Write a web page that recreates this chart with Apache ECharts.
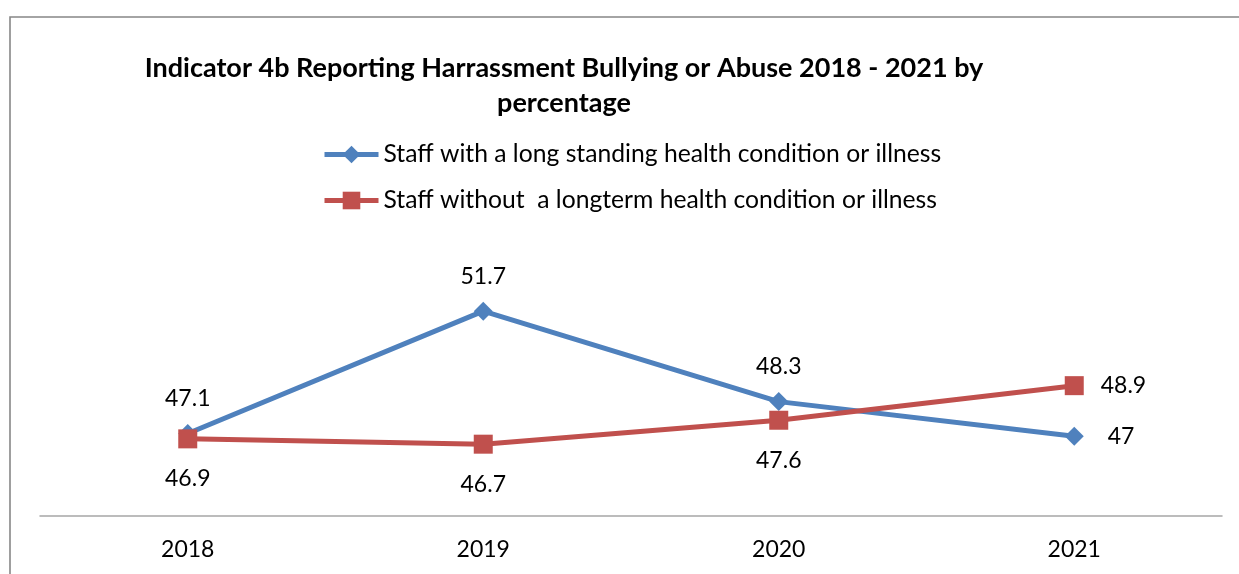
<!DOCTYPE html>
<html>
<head>
<meta charset="utf-8">
<script src="https://cdn.jsdelivr.net/npm/echarts@6/dist/echarts.min.js"></script>
<style>
  html, body { margin: 0; padding: 0; background: #fff; }
  #chart { width: 1239px; height: 574px; }
</style>
</head>
<body>
<div id="chart"></div>
<script>
// Survey years on the category axis
const years = ['2018', '2019', '2020', '2021'];

// Percentage reporting harassment, bullying or abuse
const withCondition = [47.1, 51.7, 48.3, 47];
const withoutCondition = [46.9, 46.7, 47.6, 48.9];

const seriesNames = [
  'Staff with a long standing health condition or illness',
  'Staff without  a longterm health condition or illness'
];

const titleText = 'Indicator 4b Reporting Harrassment Bullying or Abuse 2018 - 2021 by\npercentage';

const FONT = 'Lato, "Open Sans", sans-serif';
const BLUE = '#4F81BD';
const RED = '#C0504D';

const chart = echarts.init(document.getElementById('chart'), null, { renderer: 'canvas' });

// Blue labels sit above the points, red below; the last point of each is labelled to the right
function labelFor(pos, i, n, sideGap) {
  if (i === n - 1) {
    return { show: true, position: 'right', distance: sideGap };
  }
  return { show: true, position: pos, distance: pos === 'top' ? 14 : 19 };
}

chart.setOption({
  animation: false,
  backgroundColor: '#ffffff',
  textStyle: { fontFamily: FONT },
  title: {
    text: titleText,
    left: 564,
    top: 51,
    padding: 0,
    textAlign: 'center',
    textStyle: {
      fontFamily: FONT,
      fontWeight: 'bold',
      fontSize: 27,
      lineHeight: 35,
      color: '#000000'
    }
  },
  legend: {
    orient: 'vertical',
    left: 322,
    top: 142,
    padding: 0,
    itemWidth: 54,
    itemHeight: 22,
    itemGap: 21,
    textStyle: { fontFamily: FONT, fontSize: 24.7, color: '#000000' },
    data: [
      { name: seriesNames[0], lineStyle: { width: 5 } },
      { name: seriesNames[1], lineStyle: { width: 5 } }
    ]
  },
  grid: {
    left: 40,
    right: 17,
    top: 250,
    bottom: 58,
    containLabel: false
  },
  xAxis: {
    type: 'category',
    data: years,
    boundaryGap: true,
    axisLine: { show: true, lineStyle: { color: '#A6A6A6', width: 1.5 } },
    axisTick: { show: false },
    axisLabel: { fontFamily: FONT, fontSize: 23, color: '#000000', margin: 22 }
  },
  yAxis: {
    type: 'value',
    min: 44,
    max: 54,
    interval: 2,
    show: false,
    splitLine: { show: false }
  },
  graphic: [
    {
      type: 'polyline',
      shape: { points: [[10, 600], [10, 17], [1260, 17]] },
      style: { stroke: '#878787', lineWidth: 1.6, fill: null },
      silent: true
    }
  ],
  series: [
    {
      name: seriesNames[0],
      type: 'line',
      data: withCondition.map((v, i) => ({ value: v, label: labelFor('top', i, withCondition.length, 24) })),
      symbol: 'diamond',
      symbolSize: 19,
      lineStyle: { color: BLUE, width: 5 },
      itemStyle: { color: BLUE },
      label: { fontFamily: FONT, fontSize: 23, color: '#000000' },
      z: 2
    },
    {
      name: seriesNames[1],
      type: 'line',
      data: withoutCondition.map((v, i) => ({ value: v, label: labelFor('bottom', i, withoutCondition.length, 17) })),
      symbol: 'rect',
      symbolSize: 19,
      lineStyle: { color: RED, width: 5 },
      itemStyle: { color: RED },
      label: { fontFamily: FONT, fontSize: 23, color: '#000000' },
      z: 3
    }
  ]
});
</script>
</body>
</html>
